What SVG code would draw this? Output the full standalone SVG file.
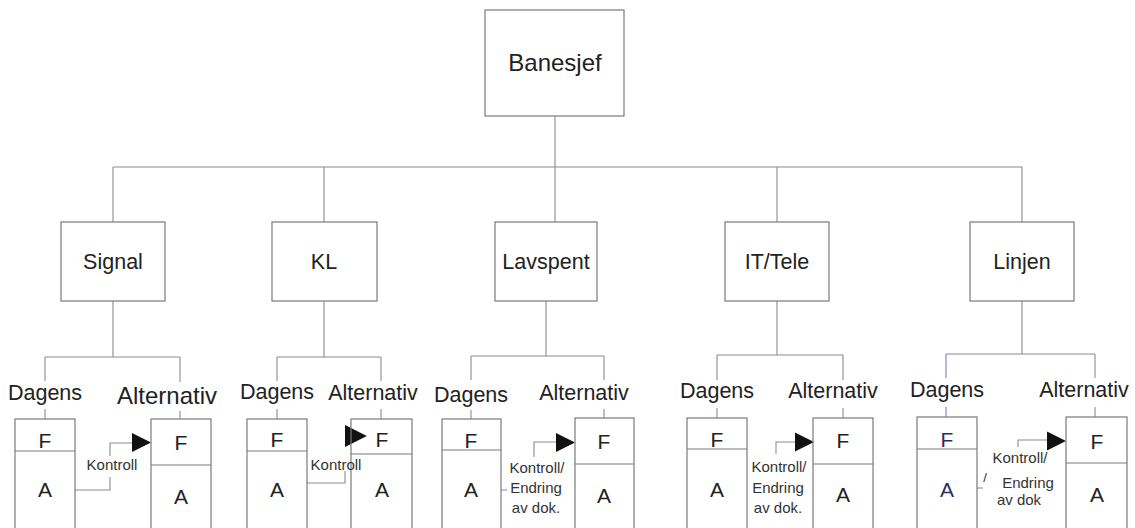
<svg xmlns="http://www.w3.org/2000/svg" width="1135" height="528" viewBox="0 0 1135 528">
  <style>
    .bg { fill: #ffffff; }
    .box { fill: none; stroke: #7a7a7a; stroke-width: 1.2; }
    .div { stroke: #7a7a7a; stroke-width: 1.2; fill: none; }
    .ln { stroke: #8c8c8c; stroke-width: 1.1; fill: none; }
    .ln-blue { stroke: #8a86d8; stroke-width: 1.2; fill: none; }
    .t { font-family: "Liberation Sans", Arial, sans-serif; fill: #222222; text-anchor: middle; }
    .big { font-size: 24px; }
    .unit { font-size: 21.5px; }
    .lbl { font-size: 21.5px; }
    .lbl-l { font-size: 24px; }
    .fa { font-size: 21px; }
    .fa-blue { fill: #2c2c5e; }
    .small { font-size: 15px; fill: #333333; }
    .head { fill: #111111; }
  </style>
  <defs>
    <path id="head" class="head" d="M0,-9.5 L19,0 L0,9.5 Z"/>
  </defs>

  <rect class="bg" x="0" y="0" width="1135" height="528"/>

  <!-- connectors -->
  <g id="connectors">
    <!-- top level -->
    <path class="ln" d="M555,116 V167 M113,167 H1022 M113,167 V222 M324,167 V222 M555,167 V222 M777,167 V222 M1022,167 V222"/>

    <!-- Signal -->
    <path class="ln" d="M113,301 V357 M45,357 H180 M45,357 V381 M180,357 V382 M45,409 V419 M180,411 V419"/>
    <path class="ln" d="M75,490 H110 V477 M110,456 V443 H133"/>
    <use href="#head" transform="translate(132,442.5)"/>

    <!-- KL -->
    <path class="ln" d="M324,301 V357 M277,357 H381 M277,357 V381 M381,357 V381 M277,409 V419 M381,409 V419"/>
    <path class="ln" d="M307,483 H345 V471"/>
    <use href="#head" transform="translate(345,436) scale(1.15)"/>

    <!-- Lavspent -->
    <path class="ln" d="M546,301 V356 M471,356 H604 M471,356 V380 M604,356 V380 M471,410 V419 M604,409 V418"/>
    <path class="ln" d="M534,457 V442 H557 M501,490 H507"/>
    <use href="#head" transform="translate(556,442.5)"/>

    <!-- IT/Tele -->
    <path class="ln" d="M777,301 V355 M717,355 H843 M717,355 V380 M843,355 V380 M717,408 V418 M843,408 V418"/>
    <path class="ln" d="M776,454 V442 H796"/>
    <use href="#head" transform="translate(795,442)"/>

    <!-- Linjen -->
    <path class="ln" d="M1022,301 V354 M946,354 H1095 M1095,354 V378 M1095,407 V417"/>
    <path class="ln-blue" d="M946,354 V378 M946,407 V417"/>
    <path class="ln" d="M1018,447 V440 H1048 M977,488 H983"/>
    <use href="#head" transform="translate(1047,441)"/>
  </g>

  <!-- top node -->
  <g id="banesjef">
    <rect class="box" x="485" y="10" width="139" height="106"/>
    <text class="t big" x="555" y="71">Banesjef</text>
  </g>

  <!-- departments -->
  <g id="signal">
    <rect class="box" x="61" y="222" width="104" height="79"/>
    <text class="t unit" x="113" y="269">Signal</text>
  </g>
  <g id="kl">
    <rect class="box" x="272" y="222" width="105" height="79"/>
    <text class="t unit" x="324" y="269">KL</text>
  </g>
  <g id="lavspent">
    <rect class="box" x="495" y="222" width="102" height="79"/>
    <text class="t unit" x="546" y="269">Lavspent</text>
  </g>
  <g id="it-tele">
    <rect class="box" x="725" y="222" width="104" height="79"/>
    <text class="t unit" x="777" y="269">IT/Tele</text>
  </g>
  <g id="linjen">
    <rect class="box" x="970" y="222" width="104" height="79"/>
    <text class="t unit" x="1022" y="269">Linjen</text>
  </g>

  <!-- Signal: current / alternative -->
  <g id="signal-dagens">
    <text class="t lbl" x="45" y="400">Dagens</text>
    <rect class="box" x="15" y="419" width="60" height="120"/>
    <line class="div" x1="15" y1="451" x2="75" y2="451"/>
    <text class="t fa" x="45" y="448">F</text>
    <text class="t fa" x="45" y="497">A</text>
  </g>
  <g id="signal-alternativ">
    <text class="t lbl-l" x="167" y="404">Alternativ</text>
    <rect class="box" x="151" y="419" width="60" height="120"/>
    <line class="div" x1="151" y1="465" x2="211" y2="465"/>
    <text class="t fa" x="181" y="450">F</text>
    <text class="t fa" x="181" y="504">A</text>
  </g>
  <g id="signal-kontroll">
    <text class="t small" x="112" y="470">Kontroll</text>
  </g>

  <!-- KL: current / alternative -->
  <g id="kl-dagens">
    <text class="t lbl" x="277" y="399">Dagens</text>
    <rect class="box" x="247" y="419" width="60" height="120"/>
    <line class="div" x1="247" y1="451" x2="307" y2="451"/>
    <text class="t fa" x="277" y="447">F</text>
    <text class="t fa" x="277" y="497">A</text>
  </g>
  <g id="kl-alternativ">
    <text class="t lbl" x="373" y="400">Alternativ</text>
    <rect class="box" x="351" y="419" width="61" height="120"/>
    <line class="div" x1="351" y1="454" x2="412" y2="454"/>
    <text class="t fa" x="382" y="447">F</text>
    <text class="t fa" x="382" y="497">A</text>
  </g>
  <g id="kl-kontroll">
    <text class="t small" x="336" y="470">Kontroll</text>
  </g>

  <!-- Lavspent: current / alternative -->
  <g id="lavspent-dagens">
    <text class="t lbl" x="471" y="402">Dagens</text>
    <rect class="box" x="442" y="419" width="59" height="120"/>
    <line class="div" x1="442" y1="450" x2="501" y2="450"/>
    <text class="t fa" x="471" y="448">F</text>
    <text class="t fa" x="471" y="497">A</text>
  </g>
  <g id="lavspent-alternativ">
    <text class="t lbl" x="584" y="400">Alternativ</text>
    <rect class="box" x="575" y="418" width="59" height="120"/>
    <line class="div" x1="575" y1="464" x2="634" y2="464"/>
    <text class="t fa" x="604" y="449">F</text>
    <text class="t fa" x="604" y="503">A</text>
  </g>
  <g id="lavspent-kontroll">
    <text class="t small" x="537" y="473">Kontroll/</text>
    <text class="t small" x="536" y="493">Endring</text>
    <text class="t small" x="536" y="513">av dok.</text>
  </g>

  <!-- IT/Tele: current / alternative -->
  <g id="it-tele-dagens">
    <text class="t lbl" x="717" y="398">Dagens</text>
    <rect class="box" x="687" y="418" width="60" height="120"/>
    <line class="div" x1="687" y1="449" x2="747" y2="449"/>
    <text class="t fa" x="717" y="447">F</text>
    <text class="t fa" x="717" y="497">A</text>
  </g>
  <g id="it-tele-alternativ">
    <text class="t lbl" x="833" y="398">Alternativ</text>
    <rect class="box" x="813" y="418" width="60" height="120"/>
    <line class="div" x1="813" y1="464" x2="873" y2="464"/>
    <text class="t fa" x="843" y="448">F</text>
    <text class="t fa" x="843" y="502">A</text>
  </g>
  <g id="it-tele-kontroll">
    <text class="t small" x="779" y="472">Kontroll/</text>
    <text class="t small" x="778" y="493">Endring</text>
    <text class="t small" x="778" y="513">av dok.</text>
  </g>

  <!-- Linjen: current / alternative -->
  <g id="linjen-dagens">
    <text class="t lbl" x="947" y="397">Dagens</text>
    <rect class="box" x="917" y="417" width="60" height="120"/>
    <line class="div" x1="917" y1="449" x2="977" y2="449"/>
    <text class="t fa fa-blue" x="947" y="447">F</text>
    <text class="t fa fa-blue" x="947" y="497">A</text>
  </g>
  <g id="linjen-alternativ">
    <text class="t lbl" x="1084" y="397">Alternativ</text>
    <rect class="box" x="1066" y="417" width="61" height="120"/>
    <line class="div" x1="1066" y1="463" x2="1127" y2="463"/>
    <text class="t fa" x="1097" y="449">F</text>
    <text class="t fa" x="1097" y="502">A</text>
  </g>
  <g id="linjen-kontroll">
    <text class="t small" x="1020" y="463">Kontroll/</text>
    <text class="t small" x="985" y="482" style="font-size:13px">/</text>
    <text class="t small" x="1028" y="488">Endring</text>
    <text class="t small" x="1019" y="505">av dok</text>
  </g>
</svg>
